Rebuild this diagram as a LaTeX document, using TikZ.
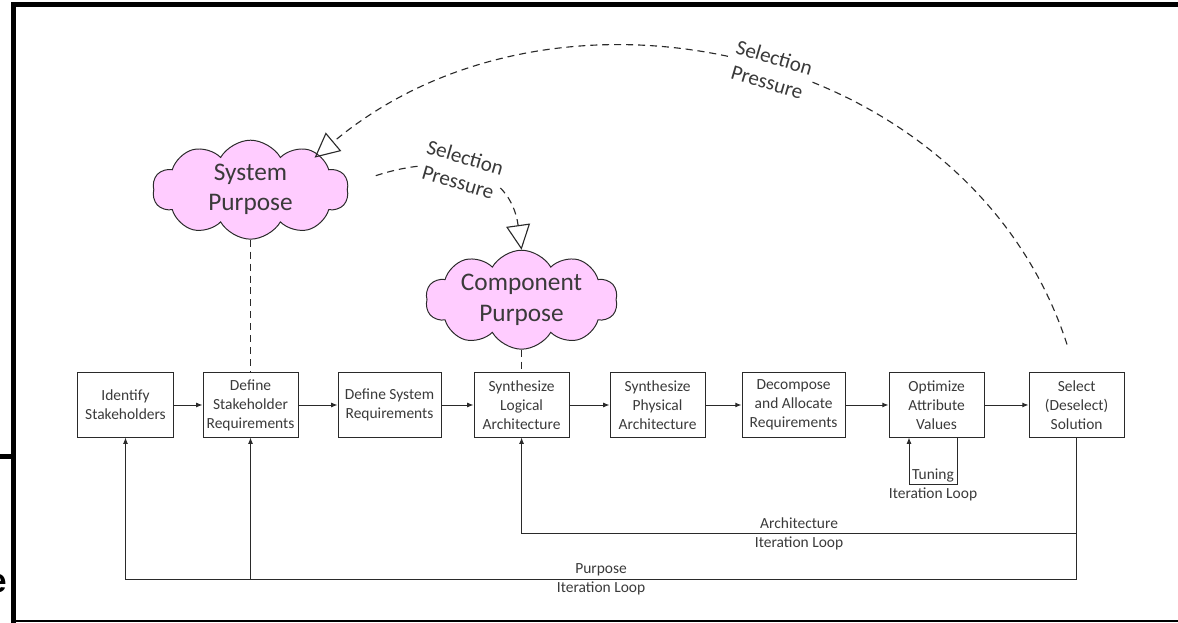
\documentclass[tikz,border=0pt]{standalone}
\usepackage{fontspec}
\setmainfont{Carlito}
\newfontfamily\cutfont{Liberation Sans}
\usetikzlibrary{arrows.meta, positioning, shapes.symbols}
\definecolor{sePink}{HTML}{FFCCFF}
\definecolor{seInk}{HTML}{3A3A3A}
\definecolor{seLine}{HTML}{2A2A2A}

\begin{document}
\begin{tikzpicture}[
  x=0.025cm, y=0.025cm,
  box/.style={draw=seLine, line width=0.7pt, minimum width=2.375cm, minimum height=1.6cm,
    align=center, inner sep=1pt, text=seInk, font=\fontsize{11}{13.5}\selectfont},
  wide/.style={box, minimum width=2.575cm},
  flow/.style={draw=seLine, line width=0.7pt, -{Latex[length=4.5pt,width=3.5pt]}},
  link/.style={draw=seLine, line width=0.8pt, dash pattern=on 5pt off 3.5pt},
  press/.style={link, -{Triangle[open,length=0.62cm,width=0.6cm]}},
  puff/.style={cloud, cloud puffs=10, cloud puff arc=120, aspect=2.4, draw=seLine, line width=0.7pt,
    fill=sePink, minimum width=4.9cm, minimum height=2.05cm, inner sep=0pt,
    align=center, text=seInk, font=\fontsize{18}{21.5}\selectfont},
  tag/.style={align=center, inner sep=1pt, text=seInk, font=\fontsize{11}{13.5}\selectfont},
  ptag/.style={align=center, inner sep=1pt, fill=white, sloped, text=seInk,
    font=\fontsize{15}{18.3}\selectfont},
]
  \useasboundingbox (0,0) rectangle (1178,623);

  \node[box] (idst) at (125.5,218) {Identify\\Stakeholders};
  \node[box, right=0.725cm of idst] (defsh) {Define\\Stakeholder\\Requirements};
  \node[wide, right=0.975cm of defsh] (defsys) {Define System\\Requirements};
  \node[box, right=0.8cm of defsys] (logarch) {Synthesize\\Logical\\Architecture};
  \node[box, right=1.0cm of logarch] (phyarch) {Synthesize\\Physical\\Architecture};
  \node[wide, right=0.9cm of phyarch] (alloc) {Decompose\\and Allocate\\Requirements};
  \node[box, right=1.075cm of alloc] (optim) {Optimize\\Attribute\\Values};
  \node[box, right=1.1cm of optim] (select) {Select\\(Deselect)\\Solution};

  \node[puff, above=3.32cm of defsh] (sysp) {System\\Purpose};
  \node[puff, above=0.57cm of logarch, minimum width=4.8cm] (comp) {Component\\Purpose};

  \foreach \a/\b in {idst/defsh, defsh/defsys, defsys/logarch, logarch/phyarch,
                     phyarch/alloc, alloc/optim, optim/select}
    \draw[flow] (\a) -- (\b);

  \draw[link] (sysp) -- (defsh);
  \draw[link] (comp) -- (logarch);

  \draw[flow] ([xshift=0.51cm]optim.south) -- ++(0,-1.175cm)
    -| node[tag, pos=0.25] {Tuning\\Iteration Loop} ([xshift=-0.69cm]optim.south);
  \draw[flow] (select.south) -- ++(0,-2.4cm)
    -| node[tag, pos=0.25] {Architecture\\Iteration Loop} (logarch.south);
  \draw[flow] (select.south) -- ++(0,-3.55cm) coordinate (purp)
    -| node[tag, pos=0.25] {Purpose\\Iteration Loop} (idst.south);
  \draw[flow] (defsh.south |- purp) -- (defsh.south);

  \draw[press] ([shift={(-0.24cm,0.7cm)}]select.north) to[out=108, in=40, looseness=1.04]
    node[ptag, pos=0.47] {Selection\\Pressure} ([shift={(1.6cm,0.8cm)}]sysp.center);
  \draw[press] ([shift={(0.7cm,0.35cm)}]sysp.east) to[out=18, in=98, looseness=1.25]
    node[ptag, pos=0.43] {Selection\\Pressure} (comp.north);

  \draw[line width=0.125cm] (1178,618.5) -- (13.5,618.5) -- (13.5,0);
  \draw[line width=0.125cm] (0,166.5) -- (13.5,166.5);
  \draw[line width=0.05cm] (13.5,1.5) -- (1178,1.5);
  \begin{scope}
    \clip (0,0) rectangle (11,623);
    \node[anchor=east, inner sep=0pt, font=\cutfont\bfseries\fontsize{24}{24}\selectfont] (cut) at (7,39) {e};
  \end{scope}
\end{tikzpicture}
\end{document}
